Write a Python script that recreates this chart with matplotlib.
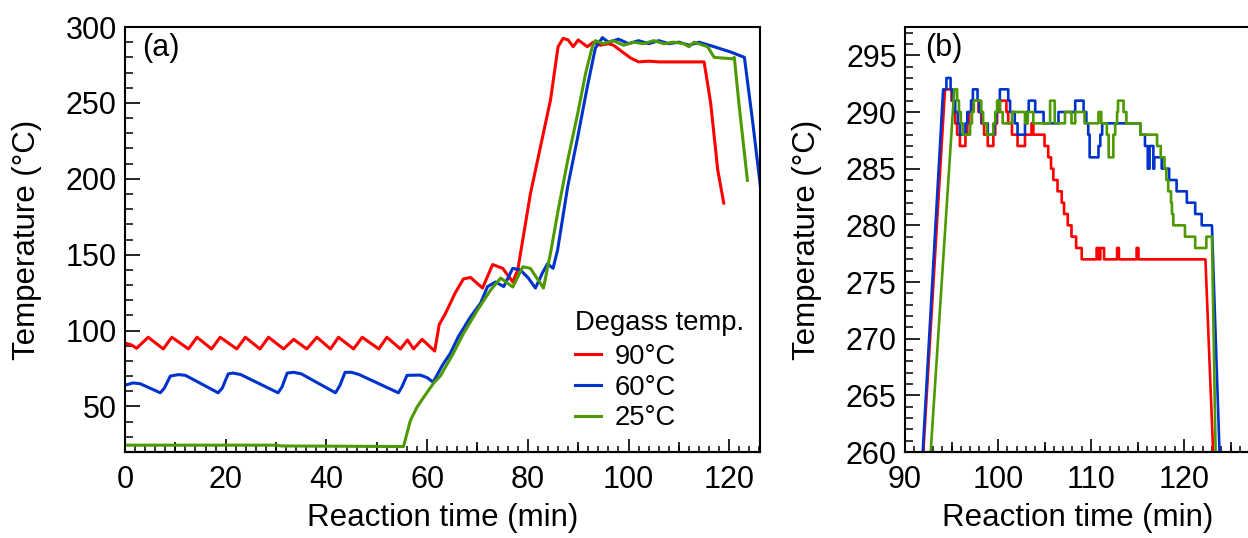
import numpy as np
import matplotlib
matplotlib.use("Agg")
import matplotlib.pyplot as plt
from matplotlib.ticker import MultipleLocator

plt.rcParams['font.family'] = ['Liberation Sans', 'DejaVu Sans']

RED = '#ff0000'
BLUE = '#0033cc'
GREEN = '#4d9900'

# ---- panel (a): whole run ----
red_t = [0, 1.3, 2.3, 4.6, 7.6, 9.3, 12.6, 14.3, 17.2, 18.9, 22.2, 23.9, 26.8, 28.5,
         31.5, 33.5, 36.1, 38.1, 40.8, 42.4, 45.4, 47.1, 50.4, 52.0, 54.7, 56.1, 57.3,
         59.0, 61.5, 62.4, 63.6, 65.6, 67.2, 68.6, 71.0, 73.0, 75.0, 77.0, 78.0, 78.6,
         80.5, 82.5, 84.5, 86.0, 87.0, 88.0, 89.0, 90.0, 91.8, 93.0, 94.4, 96.0, 97.0,
         98.8, 100.4, 102.0, 104.0, 106.0, 115.0, 116.3, 117.7, 118.9]
red_T = [91.8, 90.5, 88.3, 95.6, 87.9, 95.6, 87.9, 95.6, 87.9, 95.6, 87.9, 95.6, 87.9, 95.6,
         87.9, 94.2, 87.9, 95.6, 87.9, 95.6, 87.9, 95.6, 87.9, 95.6, 87.9, 93.8, 87.9,
         94.2, 86.5, 104, 111, 125, 134, 135, 128, 143.5, 141, 132, 140, 152,
         190, 221, 252, 287, 292.5, 291.5, 287, 291.5, 287, 290, 288, 289, 288,
         283.5, 279.6, 277, 277.5, 277, 277, 250, 206, 184]

blue_t = [0, 1.6, 3.0, 7.0, 7.8, 9.0, 10.6, 12.0, 18.5, 19.3, 20.5, 21.5, 23.0,
          30.4, 31.2, 32.2, 33.5, 35.0, 41.8, 42.7, 43.7, 45.0, 46.5, 54.3, 55.0, 56.0,
          58.6, 60.0, 61.2, 63.0, 64.6, 66.2, 68.6, 70.6, 72.0, 73.6, 75.2, 77.0, 78.5,
          80.1, 81.5, 82.9, 83.9, 85.0, 85.9, 87.9, 89.9, 91.8, 93.4, 94.8, 96.0, 98.0,
          100.0, 102.0, 104.0, 106.0, 108.0, 110.0, 112.0, 114.0, 115.0, 117.0, 120.3,
          123.0, 124.6, 126.5]
blue_T = [64, 65.5, 65, 59, 62, 70, 71, 70.5, 59, 62, 71.5, 72, 71,
          59, 63, 72, 72.5, 71.5, 59, 64, 72.5, 72.5, 71, 59, 63, 70.5,
          70.7, 69, 66, 77, 85, 96, 109, 118, 129, 132, 129, 141, 140,
          134.6, 128, 138, 144, 141, 153, 194.6, 227.5, 260.5, 286, 293, 290, 292,
          289, 291, 289, 291, 289, 290, 288, 290, 289, 287, 283.5,
          280, 238.7, 186]

green_t = [0, 30, 31, 55.3, 56.7, 58.0, 59.3, 61.3, 62.6, 65.2, 67.2, 70.0, 72.6, 74.6,
           77.0, 79.0, 80.5, 83.1, 84.5, 86.0, 87.9, 89.9, 91.5, 92.8, 93.4, 95, 97, 99,
           101, 103, 105, 107, 109, 111, 112, 113, 115.7, 117.0, 120.7, 121.0, 121.9, 123.6]
green_T = [24.5, 24.5, 24, 23.6, 41, 49.6, 56, 65.5, 70, 85, 98, 113.5, 126.7, 134.6,
           128.7, 142, 141, 128, 151, 179, 212, 243, 270, 287, 291, 289, 291, 288,
           290, 289, 291, 289, 290, 289, 287, 290, 287, 280, 279, 280, 250, 199]

# ---- panel (b): plateau detail (change points of the integer readout) ----
red_b_rise = (91.75, 257)
red_b_t = [94.3, 95.0, 95.2, 95.4, 95.6, 95.9, 96.5, 96.7, 96.9, 97.3, 97.9, 98.2, 98.5,
           98.9, 99.5, 99.7, 99.9, 100.2, 100.9, 101.1, 101.5, 102.1, 102.9, 103.6, 103.8,
           105.0, 105.4, 105.7, 105.95, 106.4, 106.85, 107.1, 107.5, 107.9, 108.4, 109.0,
           110.6, 110.8, 111.0, 111.4, 112.8, 113.0, 114.9, 115.1]
red_b_T = [292, 291, 290, 289, 288, 287, 288, 289, 290, 291, 290, 289, 288,
           287, 288, 289, 290, 291, 290, 289, 288, 287, 288, 289, 288,
           287, 286, 285, 284, 283, 282, 281, 280, 279, 278, 277,
           278, 277, 278, 277, 278, 277, 278, 277]
red_b_end = 122.3
red_b_drop = (123.3, 256.5)

blue_b_rise = (91.7, 257)
blue_b_t = [94.1, 94.45, 94.9, 95.1, 95.4, 95.7, 95.9, 96.5, 96.7, 97.1, 97.3, 97.8, 98.0,
            98.3, 98.9, 99.6, 99.8, 100.0, 100.2, 101.1, 101.3, 101.8, 102.1, 102.9, 103.1,
            103.3, 104.0, 104.9, 106.5, 108.3, 109.2, 109.5, 109.7, 109.85, 110.8, 111.0,
            111.2, 115.3, 115.8, 116.1, 116.3, 116.7, 116.8, 117.6, 118.4, 119.2, 120.3,
            121.2, 121.9]
blue_b_T = [292, 293, 292, 291, 290, 289, 288, 289, 290, 291, 292, 291, 290,
            289, 288, 289, 290, 291, 292, 291, 290, 289, 288, 289, 290,
            291, 290, 289, 290, 291, 290, 289, 288, 286, 287, 288,
            289, 288, 287, 285, 287, 285, 286, 285, 284, 283, 282,
            281, 280]
blue_b_end = 123.0
blue_b_drop = (124.0, 255.5)

green_b_rise = (92.5, 256.7)
green_b_t = [95.3, 95.6, 95.8, 96.0, 96.2, 97.0, 97.2, 97.4, 98.2, 98.4, 98.8, 99.5, 99.7,
             99.9, 100.2, 100.5, 101.5, 102.9, 103.2, 103.8, 105.6, 106.1, 107.2, 107.9,
             108.3, 109.3, 110.8, 111.1, 111.7, 111.9, 112.4, 112.6, 112.8, 112.9, 113.5,
             113.8, 115.3, 117.1, 117.5, 117.9, 118.1, 118.3, 118.6, 118.7, 118.85, 120.1,
             121.2, 122.4]
green_b_T = [292, 291, 290, 289, 288, 289, 290, 291, 290, 289, 288, 289, 290,
             291, 290, 289, 290, 289, 290, 289, 291, 289, 290, 289,
             290, 289, 290, 289, 288, 286, 288, 289, 290, 291, 290,
             289, 288, 287, 286, 285, 284, 283, 282, 281, 280, 279,
             278, 279]
green_b_end = 123.0
green_b_drop = (123.5, 255)

labels = ['90°C', '60°C', '25°C']


def step_curve(rise, t, v, t_end, drop):
    # ramp up, integer steps (post), ramp down
    xs = np.repeat(t, 2)[1:]
    ys = np.repeat(v, 2)[:-1]
    xs = np.concatenate([[rise[0]], xs, [t_end, drop[0]]])
    ys = np.concatenate([[rise[1]], ys, [v[-1], drop[1]]])
    return xs, ys


def style(ax, xmaj, xmid, xmin, ymaj, ymin):
    for s in ax.spines.values():
        s.set_linewidth(1.5)
    ax.xaxis.set_major_locator(MultipleLocator(xmaj))
    ax.xaxis.set_minor_locator(MultipleLocator(xmin))
    ax.yaxis.set_major_locator(MultipleLocator(ymaj))
    ax.yaxis.set_minor_locator(MultipleLocator(ymin))
    ax.tick_params(which='both', top=False, right=False, direction='in')
    ax.tick_params(which='major', labelsize=22)
    ax.tick_params(axis='x', which='major', length=9.5, width=1.2, pad=9)
    ax.tick_params(axis='x', which='minor', length=4.2, width=1.1)
    ax.tick_params(axis='y', which='major', length=11, width=1.2, pad=6)
    ax.tick_params(axis='y', which='minor', length=5.8, width=1.1)
    x0, x1 = ax.get_xlim()
    sec = ax.secondary_xaxis('bottom')
    sec.set_xticks(np.arange(x0 + xmid, x1, xmaj))
    sec.tick_params(direction='in', length=7, width=1.2, labelbottom=False)
    sec.spines['bottom'].set_linewidth(1.5)
    ax.set_xlabel('Reaction time (min)', fontsize=22.5)
    ax.set_ylabel('Temperature (°C)', fontsize=22.5)


fig = plt.figure(figsize=(12.48, 5.38), dpi=100)

# (a)
ax1 = fig.add_axes([125 / 1248, 1 - 452 / 538, 635 / 1248, 425 / 538])
ax1.plot(red_t, red_T, color=RED, lw=2.2, label=labels[0])
ax1.plot(blue_t, blue_T, color=BLUE, lw=2.2, label=labels[1])
ax1.plot(green_t, green_T, color=GREEN, lw=2.2, label=labels[2])
ax1.set_xlim(0, 126.1)
ax1.set_ylim(20, 300)
style(ax1, 20, 10, 2, 50, 10)
ax1.xaxis.set_label_coords(0.5, -0.12)
ax1.yaxis.set_label_coords(-0.131, 0.5)
ax1.text(0.027, 0.951, '(a)', transform=ax1.transAxes, fontsize=22,
         ha='left', va='center')
leg = ax1.legend(title='Degass temp.', loc='upper left', bbox_to_anchor=(0.709, 0.335),
                 frameon=False, fontsize=19.7, title_fontsize=19.7, alignment='left',
                 handlelength=0.95, handletextpad=0.5, labelspacing=0.17,
                 borderpad=0, borderaxespad=0)
leg._legend_box.sep = 6

# (b)
ax2 = fig.add_axes([905 / 1248, 1 - 452 / 538, 346 / 1248, 425 / 538])
for rise, t, v, t_end, drop, c in [
        (red_b_rise, red_b_t, red_b_T, red_b_end, red_b_drop, RED),
        (blue_b_rise, blue_b_t, blue_b_T, blue_b_end, blue_b_drop, BLUE),
        (green_b_rise, green_b_t, green_b_T, green_b_end, green_b_drop, GREEN)]:
    xs, ys = step_curve(rise, t, v, t_end, drop)
    ax2.plot(xs, ys, color=c, lw=1.9)
ax2.set_xlim(90, 127.2)
ax2.set_ylim(260, 297.5)
style(ax2, 10, 5, 1, 5, 1)
ax2.xaxis.set_label_coords(0.5, -0.12)
ax2.yaxis.set_label_coords(-0.24, 0.5)
ax2.yaxis.get_major_ticks()[0].label1.set_va('bottom')
ax2.text(0.058, 0.951, '(b)', transform=ax2.transAxes, fontsize=22,
         ha='left', va='center')

fig.savefig('out.png', dpi=100)
